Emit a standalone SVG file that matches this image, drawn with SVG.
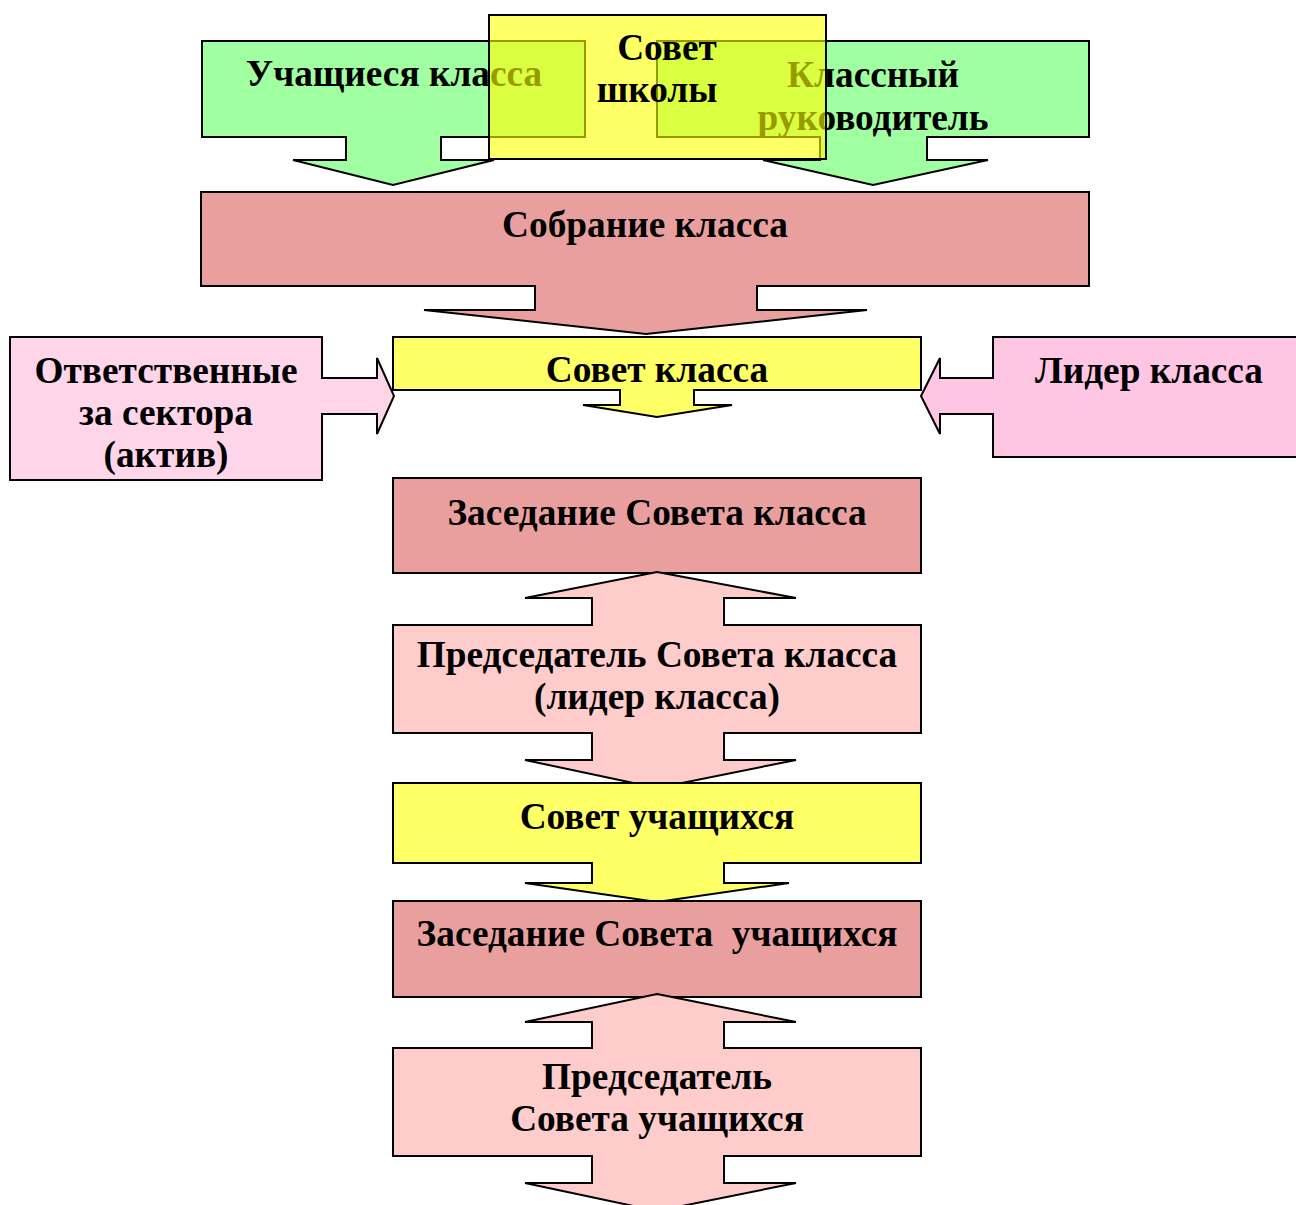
<svg xmlns="http://www.w3.org/2000/svg" width="1296" height="1205" viewBox="0 0 1296 1205">
<style>
.s{stroke:#000;stroke-width:2;stroke-linejoin:miter}
.t{font-family:"Liberation Serif","Times New Roman",serif;font-weight:bold;font-size:37.3px;fill:#000;text-anchor:middle;white-space:pre}
.g{fill:#a0ffa0}.y{fill:#ffff66}.r{fill:#ea9f9f}.p{fill:#ffcccc}
</style>
<rect width="1296" height="1205" fill="#fff"/>
<g id="uchashchiesya">
<polygon class="s g" points="202,41 585,41 585,137 441,137 441,160 494,160 393,185 293,160 346,160 346,137 202,137"/>
<text class="t" x="394" y="86">Учащиеся класса</text>
</g>
<g id="klassnyi">
<polygon class="s g" points="657,41 1089,41 1089,137 927,137 927,160 988,160 873,185 763,160 820,160 820,137 657,137"/>
<text class="t" x="873" y="87">Классный</text>
<text class="t" x="873" y="130">руководитель</text>
</g>
<g id="sovet-shkoly">
<rect x="489" y="15" width="337" height="144" fill="#ffff00" fill-opacity="0.6" stroke="#000" stroke-width="2"/>
<text class="t" x="667" y="60">Совет</text>
<text class="t" x="657" y="102">школы</text>
</g>
<g id="sobranie">
<polygon class="s r" points="201,192 1089,192 1089,286 757,286 757,310 867,310 646,334 424,310 535,310 535,286 201,286"/>
<text class="t" x="645" y="237">Собрание класса</text>
</g>
<g id="sovet-klassa">
<polygon class="s y" points="393,337 921,337 921,390 694,390 694,405 732,405 657,417 583,405 620,405 620,390 393,390"/>
<text class="t" x="657" y="382">Совет класса</text>
</g>
<g id="otvetstvennye">
<polygon class="s" fill="#ffd5ea" points="10,337 322,337 322,378 377,378 377,358 394,396 377,434 377,414 322,414 322,480 10,480"/>
<text class="t" x="166" y="383">Ответственные</text>
<text class="t" x="166" y="425">за сектора</text>
<text class="t" x="166" y="467">(актив)</text>
</g>
<g id="lider">
<polygon class="s" fill="#ffc6e4" points="993,337 1300,337 1300,457 993,457 993,414 940,414 940,434 921,396 940,358 940,378 993,378"/>
<text class="t" x="1149" y="383">Лидер класса</text>
</g>
<g id="zasedanie-klassa">
<rect class="s r" x="393" y="478" width="528" height="95"/>
<text class="t" x="657" y="525">Заседание Совета класса</text>
</g>
<g id="predsedatel-klassa">
<polygon class="s p" points="657,572 796,598 724,598 724,625 921,625 921,733 724,733 724,760 796,760 657,788 525,760 592,760 592,733 393,733 393,625 592,625 592,598 525,598"/>
<text class="t" x="657" y="667">Председатель Совета класса</text>
<text class="t" x="657" y="709">(лидер класса)</text>
</g>
<g id="sovet-uchashchikhsya">
<polygon class="s y" points="393,783 921,783 921,863 724,863 724,883 789,883 657,902 525,883 592,883 592,863 393,863"/>
<text class="t" x="657" y="829">Совет учащихся</text>
</g>
<g id="zasedanie-uchashchikhsya">
<rect class="s r" x="393" y="901" width="528" height="96"/>
<text class="t" x="657" y="946">Заседание Совета  учащихся</text>
</g>
<g id="predsedatel-uchashchikhsya">
<polygon class="s p" points="657,994 796,1022 724,1022 724,1048 921,1048 921,1156 724,1156 724,1183 796,1183 657,1211 525,1183 592,1183 592,1156 393,1156 393,1048 592,1048 592,1022 525,1022"/>
<text class="t" x="657" y="1089">Председатель</text>
<text class="t" x="657" y="1131">Совета учащихся</text>
</g>
<g id="connectors"/>
</svg>
